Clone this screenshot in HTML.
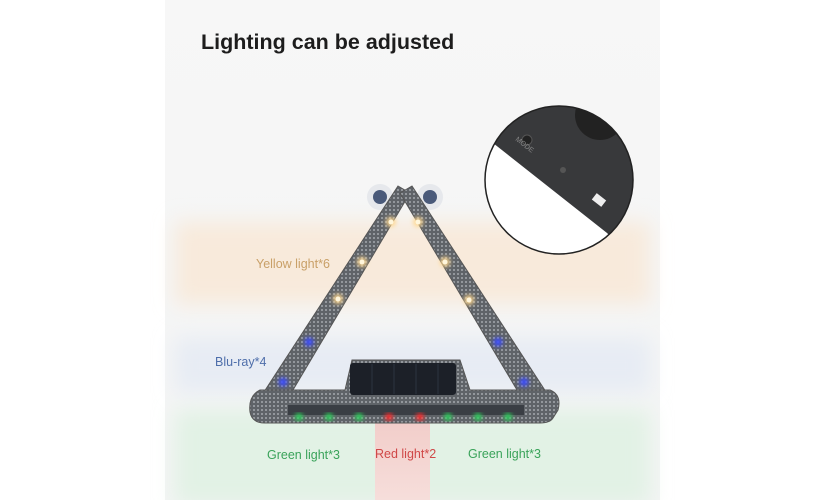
<!DOCTYPE html><html><head><style>body{margin:0;background:#fff}svg{display:block}</style></head><body>
<svg width="830" height="500" viewBox="0 0 830 500" xmlns="http://www.w3.org/2000/svg" font-family="Liberation Sans, sans-serif">
<defs>
<linearGradient id="bg" x1="0" y1="0" x2="0" y2="1"><stop offset="0" stop-color="#f7f7f7"/><stop offset="1" stop-color="#f3f4f4"/></linearGradient>
<linearGradient id="rd" x1="0" y1="0" x2="0" y2="1"><stop offset="0" stop-color="#f2cdc9"/><stop offset="1" stop-color="#f6dedb"/></linearGradient>
<filter id="bl" x="-20%" y="-50%" width="140%" height="200%"><feGaussianBlur stdDeviation="10"/></filter>
<filter id="gl"><feGaussianBlur stdDeviation="2.5"/></filter>
<pattern id="dots" width="4" height="4" patternUnits="userSpaceOnUse"><rect width="4" height="4" fill="#5f6368"/><circle cx="2" cy="2" r="1" fill="#a4a8ad"/></pattern>
<clipPath id="cc"><circle cx="559" cy="180" r="74"/></clipPath>
</defs>
<rect x="165" y="0" width="495" height="500" fill="url(#bg)"/>
<rect x="175" y="222" width="475" height="82" fill="#f8eadb" filter="url(#bl)"/>
<rect x="175" y="338" width="475" height="55" fill="#e7ecf4" filter="url(#bl)"/>
<rect x="175" y="410" width="475" height="95" fill="#e2f2e5" filter="url(#bl)"/>
<rect x="375" y="420" width="55" height="80" fill="url(#rd)"/>
<text x="201" y="49" font-size="21.5" font-weight="bold" fill="#1d1d1d">Lighting can be adjusted</text>
<circle cx="380" cy="197" r="13" fill="#e6e8ec"/><circle cx="380" cy="197" r="7" fill="#4a5a7a"/>
<circle cx="430" cy="197" r="13" fill="#e6e8ec"/><circle cx="430" cy="197" r="7" fill="#4a5a7a"/>
<polygon points="398,186 410,193 290,395 262,395" fill="url(#dots)" stroke="#555" stroke-width="1"/>
<polygon points="412,186 400,193 520,395 548,395" fill="url(#dots)" stroke="#555" stroke-width="1"/>
<path d="M260,390 L345,390 L352,360 L460,360 L470,390 L550,390 Q562,395 558,410 L553,418 Q550,423 540,423 L265,423 Q252,423 250,412 Q248,396 260,390 Z" fill="url(#dots)" stroke="#555"/>
<rect x="350" y="363" width="106" height="32" rx="3" fill="#1c2028"/>
<g stroke="#2c3340" stroke-width="1"><line x1="372" y1="364" x2="372" y2="394"/><line x1="394" y1="364" x2="394" y2="394"/><line x1="416" y1="364" x2="416" y2="394"/><line x1="438" y1="364" x2="438" y2="394"/></g>
<rect x="288" y="405" width="236" height="10" fill="#3a3e44"/>
<g fill="#ffd890" filter="url(#gl)">
<circle cx="391" cy="222" r="5"/><circle cx="362" cy="262" r="5"/><circle cx="338" cy="299" r="5"/>
<circle cx="418" cy="222" r="5"/><circle cx="445" cy="262" r="5"/><circle cx="469" cy="300" r="5"/></g>
<g fill="#fff6dc"><circle cx="391" cy="222" r="2.5"/><circle cx="362" cy="262" r="2.5"/><circle cx="338" cy="299" r="2.5"/><circle cx="418" cy="222" r="2.5"/><circle cx="445" cy="262" r="2.5"/><circle cx="469" cy="300" r="2.5"/></g>
<g fill="#3a4cff" filter="url(#gl)"><circle cx="309" cy="342" r="4.5"/><circle cx="283" cy="382" r="4.5"/><circle cx="498" cy="342" r="4.5"/><circle cx="524" cy="382" r="4.5"/></g>
<g fill="#2cd05a" filter="url(#gl)"><circle cx="299" cy="417" r="4"/><circle cx="329" cy="417" r="4"/><circle cx="359" cy="417" r="4"/><circle cx="448" cy="417" r="4"/><circle cx="478" cy="417" r="4"/><circle cx="508" cy="417" r="4"/></g>
<g fill="#ff2a2a" filter="url(#gl)"><circle cx="389" cy="417" r="4"/><circle cx="420" cy="417" r="4"/></g>
<g clip-path="url(#cc)"><rect x="480" y="100" width="160" height="160" fill="#fff"/>
<polygon points="480,100 640,100 640,265 607,233 493,143 480,133" fill="#38393b"/>
<circle cx="600" cy="115" r="25" fill="#222"/>
<circle cx="527" cy="140" r="5" fill="#222" stroke="#555"/><circle cx="563" cy="170" r="3" fill="#555"/>
<rect x="593" y="196" width="12" height="8" fill="#eee" transform="rotate(38 599 200)"/>
<text x="515" y="140" font-size="7" fill="#888" transform="rotate(38 515 140)">MODE</text></g>
<circle cx="559" cy="180" r="74" fill="none" stroke="#222" stroke-width="1.5"/>
<text x="256" y="268" font-size="12.5" fill="#c9a068">Yellow light*6</text>
<text x="215" y="366" font-size="12.5" fill="#4e6eaa">Blu-ray*4</text>
<text x="267" y="459" font-size="12.5" fill="#3aa35a">Green light*3</text>
<text x="375" y="458" font-size="12.5" fill="#d04848">Red light*2</text>
<text x="468" y="458" font-size="12.5" fill="#3aa35a">Green light*3</text>
</svg></body></html>
